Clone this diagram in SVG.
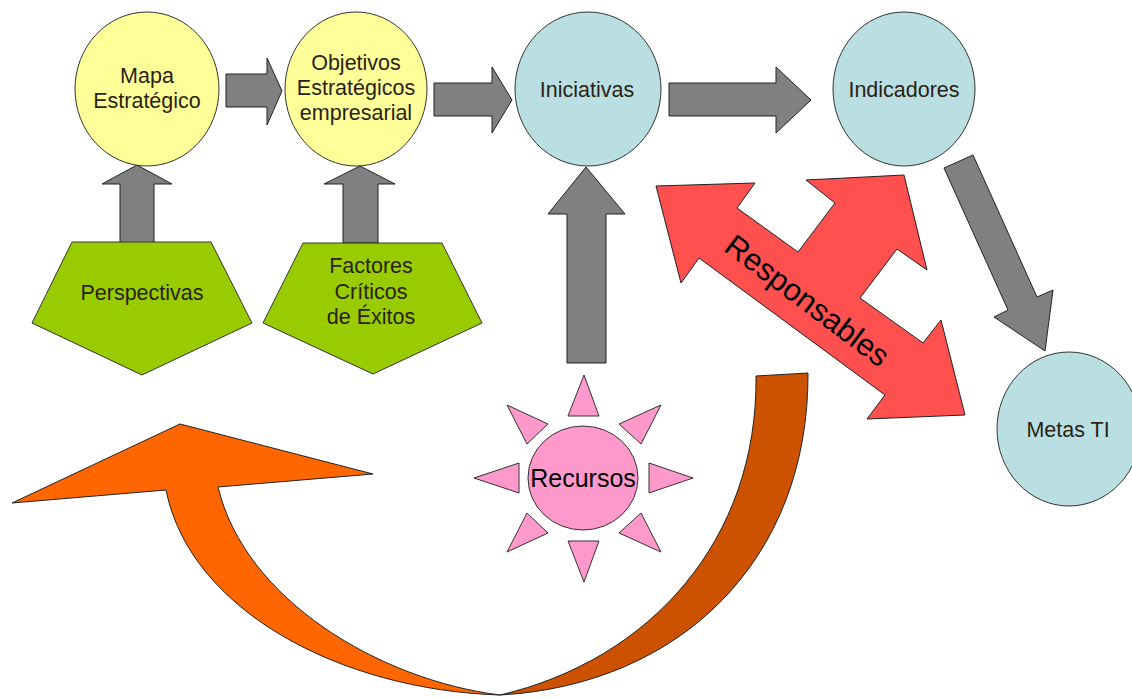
<svg xmlns="http://www.w3.org/2000/svg" width="1132" height="699" viewBox="0 0 1132 699">
  <style>
    .lbl { font-family: "Liberation Sans", Arial, sans-serif; font-size: 21.5px; fill: #2a1f14; text-anchor: middle; }
    .yellow { fill: #ffff99; stroke: #333; stroke-width: 1; }
    .blue { fill: #b9dfe3; stroke: #333; stroke-width: 1; }
    .green { fill: #99cc00; stroke: #333; stroke-width: 1; }
    .gray { fill: #808080; stroke: #222; stroke-width: 1; stroke-linejoin: miter; }
    .red { fill: #ff5050; stroke: #222; stroke-width: 1; }
    .pink { fill: #ff99cc; stroke: #333; stroke-width: 1; }
    .orange { fill: #ff6600; stroke: #222; stroke-width: 1; }
    .brown { fill: #cc5200; stroke: #222; stroke-width: 1; }
  </style>
  <rect width="1132" height="699" fill="#ffffff"/>

  <!-- connectors -->
  <g id="connectors">
    <!-- horizontal block arrows along the top row -->
    <polygon class="gray" points="226,74 267,74 267,58 282,91 267,125 267,107 226,107"/>
    <polygon class="gray" points="434,83 492,83 492,67 512,100 492,133 492,116 434,116"/>
    <polygon class="gray" points="669,83 776,83 776,67 811,100 776,133 776,116 669,116"/>
    <!-- diagonal arrow down to the goals -->
    <polygon class="gray" points="944,168 973,155 1037,297 1053,290 1045,351 994,317 1008,310"/>
    <!-- upward arrows from the pentagons and the sun -->
    <polygon class="gray" points="120,243 120,184 102,184 137,165 172,184 154,184 154,243"/>
    <polygon class="gray" points="343,243 343,184 324,184 360,166 395,184 378,184 378,243"/>
    <polygon class="gray" points="567,363 567,214 548,214 586,167 625,214 606,214 606,363"/>
    <!-- three-way responsibility arrow -->
    <polygon class="red" points="656,186 755,183 737,208 798,252 835,203 806,180 904,175 927,270 897,249 860,298 923,343 941,320 965,415 867,419 885,395 699,258 681,283"/>
    <text font-family="'Liberation Sans', Arial, sans-serif" font-size="31" fill="#000" text-anchor="middle" transform="translate(801,309) rotate(37)">Responsables</text>
    <!-- curved feedback ribbon -->
    <path class="brown" d="M756,376 L808,373 C809,560 680,685 500,695 C650,660 758,540 756,376 Z"/>
    <path class="orange" d="M166,490 L12,503 L180,424 L373,474 L218,487 C245,600 380,680 500,695 C340,690 190,610 166,490 Z"/>
  </g>

  <g id="mapa">
    <ellipse class="yellow" cx="147" cy="89" rx="72" ry="77"/>
    <text class="lbl" x="147" y="83">Mapa</text>
    <text class="lbl" x="147" y="108">Estratégico</text>
  </g>

  <g id="objetivos">
    <ellipse class="yellow" cx="356" cy="89" rx="71" ry="77"/>
    <text class="lbl" x="356" y="70">Objetivos</text>
    <text class="lbl" x="356" y="95">Estratégicos</text>
    <text class="lbl" x="356" y="120">empresarial</text>
  </g>

  <g id="iniciativas">
    <ellipse class="blue" cx="588" cy="89" rx="73" ry="77"/>
    <text class="lbl" x="587" y="97">Iniciativas</text>
  </g>

  <g id="indicadores">
    <ellipse class="blue" cx="904" cy="89" rx="71" ry="77"/>
    <text class="lbl" x="904" y="97">Indicadores</text>
  </g>

  <g id="metas">
    <ellipse class="blue" cx="1069" cy="429" rx="72" ry="77"/>
    <text class="lbl" x="1068" y="437">Metas TI</text>
  </g>

  <g id="perspectivas">
    <polygon class="green" points="72,242 211,242 252,323 142,375 32,323"/>
    <text class="lbl" x="142" y="300">Perspectivas</text>
  </g>

  <g id="factores">
    <polygon class="green" points="303,243 442,243 482,323 373,374 263,323"/>
    <text class="lbl" x="371" y="273">Factores</text>
    <text class="lbl" x="371" y="299">Críticos</text>
    <text class="lbl" x="371" y="324">de Éxitos</text>
  </g>

  <g id="recursos">
    <polygon class="pink" points="584,375 568,416 599,416"/>
    <polygon class="pink" points="584,582 568,541 599,541"/>
    <polygon class="pink" points="474,478 519,463 519,493"/>
    <polygon class="pink" points="693,478 649,463 649,493"/>
    <polygon class="pink" points="507,405 548,424 527,444"/>
    <polygon class="pink" points="661,405 619,424 641,444"/>
    <polygon class="pink" points="507,552 527,513 548,533"/>
    <polygon class="pink" points="661,552 641,513 619,533"/>
    <ellipse class="pink" cx="583" cy="478" rx="55" ry="52"/>
    <text font-family="'Liberation Sans', Arial, sans-serif" font-size="25" fill="#000" text-anchor="middle" x="583" y="487">Recursos</text>
  </g>
</svg>
